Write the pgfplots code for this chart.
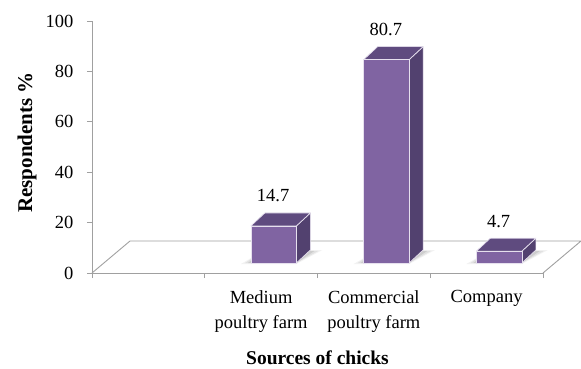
\documentclass[border=0pt]{standalone}
\usepackage{pgfplots}
\usepackage{pgfplotstable}
\pgfplotsset{compat=1.18}
\usepackage{fontspec}
\setmainfont{Liberation Serif}

\definecolor{barfront}{HTML}{8064A2}
\definecolor{barside}{HTML}{52416F}
\definecolor{bartop}{HTML}{5F4B7F}
\definecolor{baredge}{HTML}{E6E0EE}
\definecolor{axisgray}{HTML}{A0A0A0}

\newcommand\lblfont{\fontsize{18.5bp}{25bp}\selectfont}
\newcommand\ttlfont{\fontsize{19.5bp}{24bp}\selectfont\bfseries}
\newcommand\yttlfont{\fontsize{21bp}{24bp}\selectfont\bfseries}

% a closed polygon in canvas units, relative to the current marker position
\newcommand\facepath[4]{%
  \pgfpathmoveto{\pgfpoint#1}\pgfpathlineto{\pgfpoint#2}%
  \pgfpathlineto{\pgfpoint#3}\pgfpathlineto{\pgfpoint#4}\pgfpathclose}

% share of respondents by source of chicks (x = category index)
\pgfplotstableread{
x  share
1  14.7
2  80.7
3  4.7
}\chicks

\begin{document}
\begin{tikzpicture}
\begin{axis}[
  x=112.75bp, y=2.52bp,
  xmin=-0.5, xmax=3.5, ymin=0, ymax=100,
  clip=false,
  axis lines=left,
  axis line style={draw=axisgray, line width=0.9bp, -},
  tick style={draw=axisgray, line width=0.9bp},
  tick align=outside,
  major tick length=5bp,
  tick label style={font=\lblfont, text=black},
  xtick={-0.5,0.5,1.5,2.5,3.5},
  xticklabels={},
  extra x ticks={1,2,3},
  extra x tick labels={Medium\\poultry farm, Commercial\\poultry farm, Company},
  extra x tick style={major tick length=0pt, tick style={draw=none}},
  xticklabel style={font=\lblfont, align=center, anchor=north, text=black, yshift=-14bp},
  ytick={0,20,...,100},
  yticklabel style={font=\lblfont, text=black, xshift=-10bp},
  /pgf/number format/assume math mode=true,
  xlabel={Sources of chicks},
  xlabel style={font=\ttlfont, at={(axis cs:1.5,-33.7)}, anchor=center},
  ylabel={Respondents \%},
  ylabel style={font=\yttlfont, at={(axis cs:-1.0765,51.8)}, anchor=center},
]
% picture frame
\coordinate (bbsw) at (axis cs:-1.31597,-38.095);
\coordinate (bbne) at (axis cs:3.83703,108.333);

% floor of the 3-D plot area
\draw[axisgray, line width=0.9bp]
  (axis cs:-0.5,0) -- ([xshift=38bp,yshift=32bp]axis cs:-0.5,0)
  -- ([xshift=38bp,yshift=32bp]axis cs:3.5,0) -- (axis cs:3.5,0);

% 3-D columns, one box per data point (marker sits on the top front edge)
\addplot[
  scatter, only marks, mark=text, text mark={},
  visualization depends on={y \as \val},
  scatter/@pre marker code/.code={%
    \pgfmathsetlengthmacro\bh{\val*2.52bp}%
    \begin{pgfscope}
      \pgftransformshift{\pgfpoint{12.5bp}{10bp}}%
      % soft shadow on the floor
      \pgfsetfillcolor{black}%
      \begin{pgfscope}\pgfsetfillopacity{0.05}%
        \facepath{{-32.75bp}{-\bh-1bp}}{{22.75bp}{-\bh-1bp}}{{48.75bp}{-\bh+13bp}}{{-8.75bp}{-\bh+13bp}}%
        \pgfusepath{fill}\end{pgfscope}
      \begin{pgfscope}\pgfsetfillopacity{0.07}%
        \facepath{{-28.75bp}{-\bh}}{{22.75bp}{-\bh}}{{44.75bp}{-\bh+12bp}}{{-8.75bp}{-\bh+13bp}}%
        \pgfusepath{fill}\end{pgfscope}
      \begin{pgfscope}\pgfsetfillopacity{0.09}%
        \facepath{{-25.75bp}{-\bh}}{{22.75bp}{-\bh}}{{40.75bp}{-\bh+12bp}}{{-8.75bp}{-\bh+13bp}}%
        \pgfusepath{fill}\end{pgfscope}
      \pgfsetstrokecolor{baredge}%
      \pgfsetlinewidth{0.7bp}%
      \pgfsetroundjoin
      % side face
      \pgfsetfillcolor{barside}%
      \facepath{{22.75bp}{0bp}}{{36.75bp}{13bp}}{{36.75bp}{13bp-\bh}}{{22.75bp}{-\bh}}%
      \pgfusepath{fill,stroke}%
      % top face
      \pgfsetfillcolor{bartop}%
      \facepath{{-22.75bp}{0bp}}{{-8.75bp}{13bp}}{{36.75bp}{13bp}}{{22.75bp}{0bp}}%
      \pgfusepath{fill,stroke}%
      % front face
      \pgfsetfillcolor{barfront}%
      \facepath{{-22.75bp}{-\bh}}{{22.75bp}{-\bh}}{{22.75bp}{0bp}}{{-22.75bp}{0bp}}%
      \pgfusepath{fill,stroke}%
    \end{pgfscope}
  },
  scatter/@post marker code/.code={},
] table[x=x, y=share] {\chicks};

% value labels above the columns
\addplot[
  only marks, mark=none,
  nodes near coords,
  every node near coord/.append style={anchor=center, xshift=12bp, yshift=40bp,
    font=\lblfont, text=black},
] table[x=x, y=share] {\chicks};
\end{axis}
\pgfresetboundingbox
\useasboundingbox (bbsw) rectangle (bbne);
\end{tikzpicture}
\end{document}
